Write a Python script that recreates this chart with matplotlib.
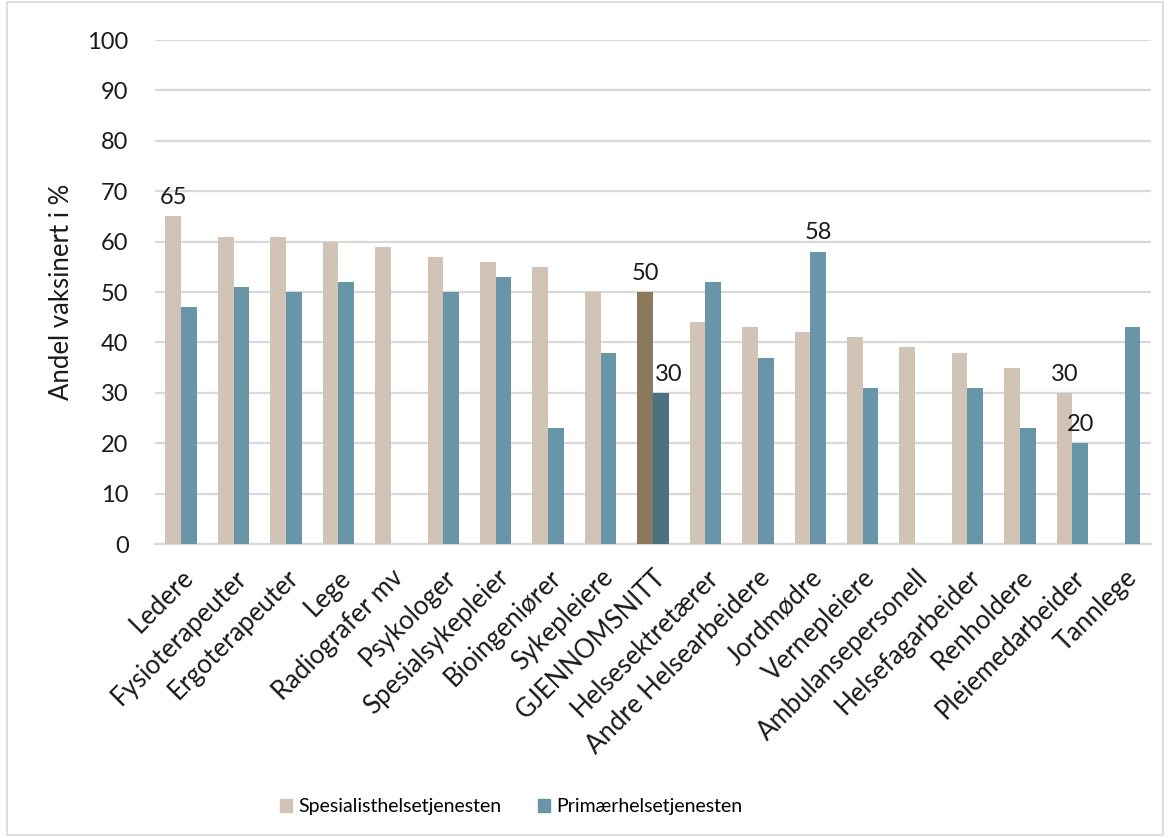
import matplotlib
matplotlib.use("Agg")
import matplotlib.pyplot as plt
from matplotlib.patches import Patch, Rectangle
import numpy as np

plt.rcParams['font.family'] = ['Lato', 'DejaVu Sans']

categories = ["Ledere", "Fysioterapeuter", "Ergoterapeuter", "Lege", "Radiografer mv",
              "Psykologer", "Spesialsykepleier", "Bioingeniører", "Sykepleiere",
              "GJENNOMSNITT", "Helsesektretærer", "Andre Helsearbeidere", "Jordmødre",
              "Vernepleiere", "Ambulansepersonell", "Helsefagarbeider", "Renholdere",
              "Pleiemedarbeider", "Tannlege"]
spesialist = [65, 61, 61, 60, 59, 57, 56, 55, 50, 50, 44, 43, 42, 41, 39, 38, 35, 30, np.nan]
primaer = [47, 51, 50, 52, np.nan, 50, 53, 23, 38, 30, 52, 37, 58, 31, np.nan, 31, 23, 20, 43]
yticks = [0, 10, 20, 30, 40, 50, 60, 70, 80, 90, 100]

# labelled bars
labels_spes = {0: "65", 9: "50", 17: "30"}
labels_prim = {9: "30", 12: "58", 17: "20"}

c_spes = "#D1C4B6"
c_prim = "#6896A8"
c_spes_avg = "#8A7A5B"
c_prim_avg = "#4B7282"
txt = "#1a1a1a"

fig = plt.figure(figsize=(11.68, 8.38), dpi=100)
ax = fig.add_axes([0.1327, 0.3508, 0.8527, 0.6014])

x = np.arange(len(categories))
w = 0.30
cols_s = [c_spes_avg if c == "GJENNOMSNITT" else c_spes for c in categories]
cols_p = [c_prim_avg if c == "GJENNOMSNITT" else c_prim for c in categories]
ax.bar(x - w / 2, spesialist, width=w, color=cols_s, zorder=3)
ax.bar(x + w / 2, primaer, width=w, color=cols_p, zorder=3)

for i, t in labels_spes.items():
    ax.annotate(t, (x[i] - w / 2, spesialist[i]), xytext=(0, 6), textcoords="offset points",
                ha="center", va="bottom", fontsize=17, color=txt)
for i, t in labels_prim.items():
    dx = 6 if categories[i] == "GJENNOMSNITT" else 0
    ax.annotate(t, (x[i] + w / 2, primaer[i]), xytext=(dx, 6), textcoords="offset points",
                ha="center", va="bottom", fontsize=17, color=txt)

ax.set_ylim(0, 100)
ax.set_xlim(-0.5, len(categories) - 0.5)
ax.set_yticks(yticks)
ax.tick_params(axis="y", length=0, labelsize=17, pad=19, labelcolor=txt)
ax.tick_params(axis="x", length=0, labelsize=18.5, pad=15, labelcolor=txt)
ax.set_xticks(x)
ax.set_xticklabels(categories, rotation=45, ha="right", va="top",
                   rotation_mode="anchor")
ax.grid(axis="y", color="#D9D9D9", linewidth=1.6, zorder=0)
for s in ["top", "right", "left"]:
    ax.spines[s].set_visible(False)
ax.spines["bottom"].set_color("#D9D9D9")
ax.spines["bottom"].set_linewidth(1.6)
ax.set_ylabel("Andel vaksinert i %", fontsize=18.5, color=txt)
ax.yaxis.set_label_coords(-0.081, 0.5)

handles = [Patch(color=c_spes, label="Spesialisthelsetjenesten"),
           Patch(color=c_prim, label="Primærhelsetjenesten")]
fig.legend(handles=handles, loc="center", bbox_to_anchor=(0.4375, 0.037), ncol=2,
           frameon=False, fontsize=14, handlelength=0.62, handleheight=0.62,
           handletextpad=0.3, columnspacing=1.9)

fig.patches.append(Rectangle((0.006, 0.003), 0.99, 0.995, transform=fig.transFigure,
                             fill=False, edgecolor="#D9D9D9", linewidth=1.2))

fig.savefig("out.png", dpi=100)
